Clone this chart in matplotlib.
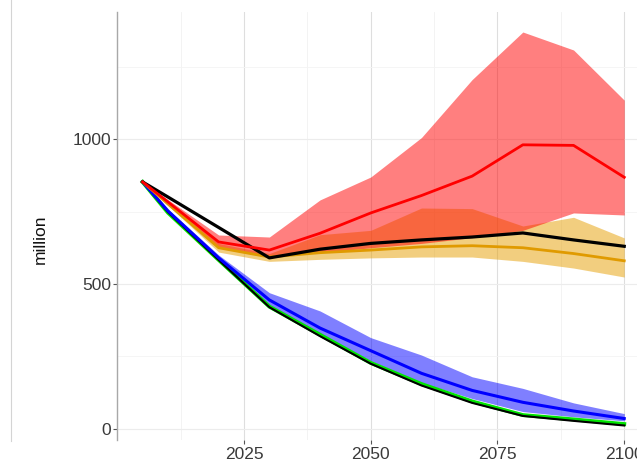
import matplotlib
matplotlib.use("Agg")
import matplotlib.pyplot as plt
from matplotlib.lines import Line2D

plt.rcParams["font.family"] = ["Liberation Sans", "DejaVu Sans"]

years = [2005, 2010, 2020, 2030, 2040, 2050, 2060, 2070, 2080, 2090, 2100]

# upper scenario group
red_mid = [852, 783, 645, 617, 675, 745, 805, 872, 980, 978, 868]
red_hi = [852, 791, 669, 662, 790, 869, 1005, 1205, 1369, 1307, 1134]
red_lo = [852, 776, 625, 597, 608, 625, 640, 660, 685, 745, 738]
orange_mid = [852, 776, 625, 593, 608, 617, 628, 632, 625, 605, 580]
orange_hi = [852, 781, 640, 605, 670, 685, 762, 760, 700, 730, 659]
orange_lo = [852, 771, 610, 578, 585, 590, 593, 593, 578, 555, 524]
black_hi = [852, 800, 695, 590, 620, 640, 652, 662, 676, 652, 630]

# lower scenario group
blue_mid = [852, 752, 590, 445, 348, 270, 192, 133, 92, 62, 36]
blue_hi = [852, 758, 600, 470, 407, 315, 255, 180, 140, 90, 53]
blue_lo = [852, 746, 580, 425, 330, 235, 160, 105, 60, 42, 28]
green_mid = [852, 746, 583, 422, 325, 228, 155, 95, 48, 33, 17]
black_lo = [852, 748, 583, 420, 320, 225, 150, 90, 45, 28, 12]

x_ticks = [2025, 2050, 2075, 2100]
x_minor = [2012.5, 2037.5, 2062.5, 2087.5]
y_ticks = [0, 500, 1000]
y_minor = [250, 750, 1250]

W, H = 637, 465
fig = plt.figure(figsize=(W / 100, H / 100), dpi=100)

left_px, right_px = 117.25, 117.25 + 105 * 5.07
top_px, bottom_px = 12, 440
ax = fig.add_axes([left_px / W, 1 - bottom_px / H,
                   (right_px - left_px) / W, (bottom_px - top_px) / H])
ax.set_xlim(2000, 2105)
ax.set_ylim(-38, 1438)

# grid
for v in x_minor:
    ax.axvline(v, color="#f1f1f1", lw=0.6, zorder=0)
for v in x_ticks:
    ax.axvline(v, color="#dedede", lw=0.8, zorder=0)
for v in y_minor:
    ax.axhline(v, color="#f4f4f4", lw=0.6, zorder=0)
for v in y_ticks:
    ax.axhline(v, color="#ececec", lw=0.8, zorder=0)

# ribbons
ax.fill_between(years, orange_lo, orange_hi, color="#E69F00", alpha=0.5, lw=0, zorder=1)
ax.fill_between(years, red_lo, red_hi, color="#FF0000", alpha=0.5, lw=0, zorder=2)
ax.fill_between(years, blue_lo, blue_hi, color="#0000FF", alpha=0.5, lw=0, zorder=2)

# lines
ax.plot(years, green_mid, color="#00E400", lw=2.8, zorder=3)
ax.plot(years, black_lo, color="#000000", lw=1.5, zorder=4)
ax.plot(years, blue_mid, color="#0000FF", lw=2.2, zorder=5)
ax.plot(years, orange_mid, color="#E09A00", lw=2.0, zorder=5)
ax.plot(years, black_hi, color="#000000", lw=2.3, zorder=6)
ax.plot(years, red_mid, color="#FF0000", lw=2.0, zorder=7)

# axes styling
for s in ["top", "right", "bottom"]:
    ax.spines[s].set_visible(False)
ax.spines["left"].set_color("#a8a8a8")
ax.spines["left"].set_linewidth(1.0)

ax.set_xticks(x_ticks)
ax.set_xticklabels([str(t) for t in x_ticks])
ax.set_yticks(y_ticks)
ax.set_yticklabels([str(t) for t in y_ticks])
ax.tick_params(axis="both", length=3, width=0.8, color="#555555",
               labelsize=12.5, labelcolor="#3a3a3a", pad=1.5)
ax.tick_params(axis="x", pad=2)

fig.text(40 / W, 1 - 239 / H, "million", rotation=90, ha="center", va="center",
         fontsize=12.5, color="#111111")

# thin frame line at the far left
fig.add_artist(Line2D([11 / W, 11 / W], [1 - 441 / H, 1], color="#d4d4d4", lw=0.8))

fig.savefig("out.png", dpi=100)
